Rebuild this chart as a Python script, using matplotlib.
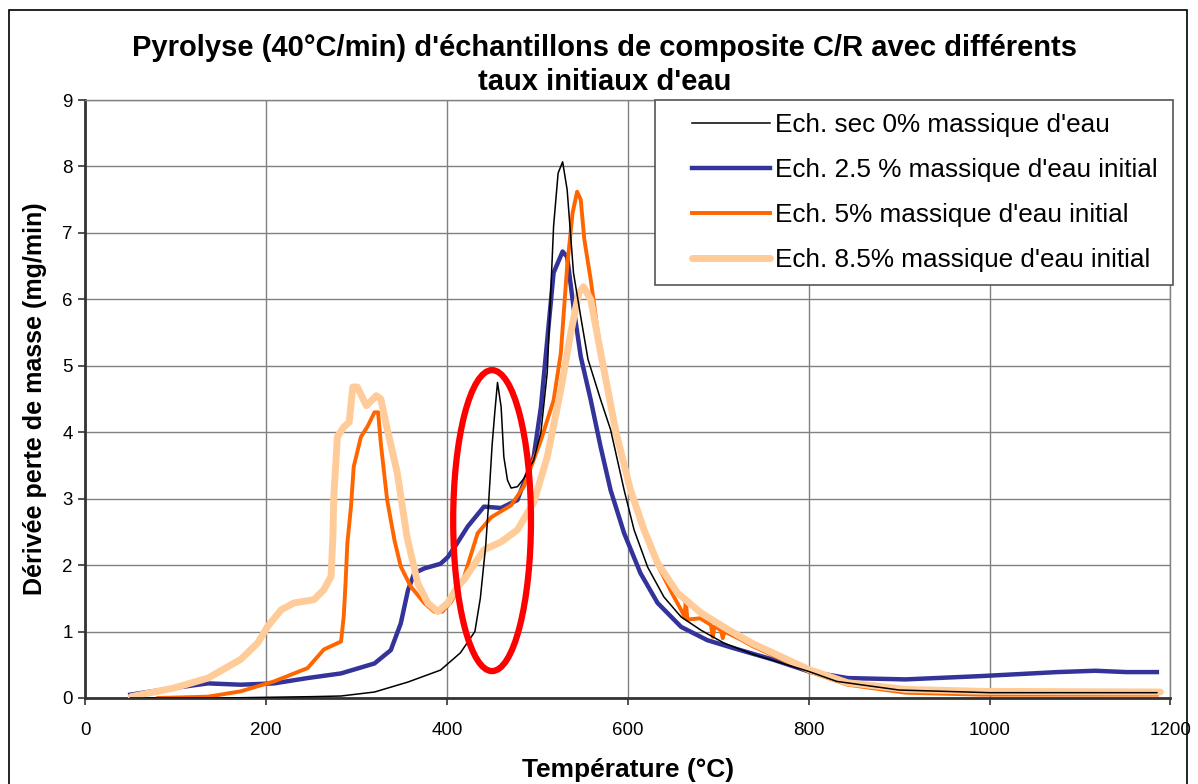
import matplotlib.pyplot as plt
from matplotlib.patches import Ellipse, Rectangle
from matplotlib.legend_handler import HandlerLine2D

plt.rcParams['font.family'] = ['Liberation Sans', 'DejaVu Sans']

# Temperature (degC) / mass loss derivative (mg/min)
t_sec = [50, 150, 250, 283, 320, 357, 393, 415, 431, 437, 443, 446, 450, 453, 456,
         460, 463, 467, 471, 478, 485, 496, 504, 511, 518, 523, 528, 533, 540, 548,
         556, 570, 581, 596, 607, 622, 640, 659, 681, 706, 738, 800, 831, 900, 1000, 1185]
d_sec = [0.0, 0.0, 0.02, 0.03, 0.09, 0.24, 0.42, 0.68, 1.0, 1.5, 2.3, 2.9, 3.8, 4.3, 4.75,
         4.38, 3.63, 3.28, 3.16, 3.18, 3.3, 3.58, 4.0, 4.9, 7.1, 7.9, 8.07, 7.65, 6.4, 5.74,
         5.1, 4.49, 4.04, 3.13, 2.53, 1.97, 1.52, 1.22, 1.02, 0.83, 0.66, 0.40, 0.25, 0.12, 0.08, 0.08]

t_25 = [50, 98, 136, 172, 209, 246, 283, 320, 338, 349, 357, 364, 375, 393, 401, 410,
        423, 441, 460, 478, 496, 504, 511, 518, 528, 533, 540, 548, 559, 570, 581, 596,
        614, 633, 659, 688, 717, 760, 800, 843, 907, 991, 1075, 1117, 1151, 1185]
d_25 = [0.05, 0.15, 0.22, 0.2, 0.22, 0.3, 0.37, 0.52, 0.72, 1.12, 1.62, 1.88, 1.95, 2.02, 2.12, 2.3,
        2.58, 2.88, 2.86, 2.98, 3.63, 4.38, 5.39, 6.4, 6.72, 6.64, 5.89, 5.14, 4.49, 3.78, 3.13, 2.48,
        1.88, 1.43, 1.07, 0.87, 0.75, 0.58, 0.40, 0.30, 0.28, 0.33, 0.39, 0.41, 0.39, 0.39]

t_5 = [81, 136, 172, 209, 246, 264, 283, 286, 288, 290, 294, 297, 305, 312, 320, 324,
       327, 334, 342, 349, 360, 375, 386, 395, 405, 419, 434, 449, 471, 485, 504, 518,
       526, 533, 539, 544, 548, 552, 559, 570, 587, 603, 618, 633, 650, 660, 663, 664,
       666, 680, 692, 694, 696, 703, 705, 707, 725, 738, 800, 843, 907, 991, 1185]
d_5 = [0.0, 0.02, 0.1, 0.25, 0.45, 0.73, 0.85, 1.23, 1.73, 2.33, 2.88, 3.48, 3.93, 4.08, 4.3, 4.3,
       3.83, 2.98, 2.38, 1.98, 1.68, 1.43, 1.3, 1.3, 1.45, 1.82, 2.48, 2.72, 2.9, 3.18, 3.88, 4.48,
       5.19, 6.5, 7.3, 7.62, 7.5, 6.9, 6.3, 5.2, 3.95, 3.1, 2.5, 2.0, 1.55, 1.3, 1.2, 1.48,
       1.18, 1.2, 1.1, 0.92, 1.08, 1.02, 0.9, 1.0, 0.88, 0.78, 0.40, 0.2, 0.08, 0.05, 0.05]

t_85 = [51, 98, 136, 172, 191, 202, 217, 231, 253, 264, 272, 274, 275, 279, 286, 292,
        296, 301, 311, 322, 327, 334, 345, 356, 368, 379, 390, 401, 412, 419, 441, 460,
        478, 496, 511, 526, 537, 546, 551, 559, 570, 587, 603, 618, 633, 655, 681, 706,
        725, 738, 800, 843, 907, 991, 1189]
d_85 = [0.02, 0.15, 0.3, 0.58, 0.83, 1.08, 1.33, 1.43, 1.48, 1.63, 1.83, 2.43, 3.03, 3.93, 4.08, 4.15,
        4.68, 4.68, 4.4, 4.55, 4.5, 4.05, 3.4, 2.42, 1.72, 1.43, 1.3, 1.43, 1.68, 1.78, 2.23, 2.35,
        2.53, 2.94, 3.63, 4.64, 5.5, 6.1, 6.19, 6.0, 5.2, 4.0, 3.13, 2.53, 2.03, 1.58, 1.28, 1.07,
        0.92, 0.82, 0.43, 0.23, 0.13, 0.1, 0.09]

labels = ["Ech. sec 0% massique d'eau",
          "Ech. 2.5 % massique d'eau initial",
          "Ech. 5% massique d'eau initial",
          "Ech. 8.5% massique d'eau initial"]


class InsetLine(HandlerLine2D):
    # legend line that leaves some blank space on its left
    def create_artists(self, legend, orig_handle, xdescent, ydescent, width, height, fontsize, trans):
        pad = 0.24 * width
        return super().create_artists(legend, orig_handle, xdescent - pad, ydescent,
                                      width - pad, height, fontsize, trans)


fig = plt.figure(figsize=(11.98, 7.84), dpi=100)
ax = fig.add_axes([0.071, 0.1097, 0.906, 0.7627])

l0, = ax.plot(t_sec, d_sec, color='black', lw=1.1, zorder=6)
l1, = ax.plot(t_25, d_25, color='#333399', lw=3.2, zorder=3)
l2, = ax.plot(t_5, d_5, color='#FF6600', lw=2.8, zorder=4)
l3, = ax.plot(t_85, d_85, color='#FFCC99', lw=5, zorder=5, solid_capstyle='round')

# red ellipse around the first peak of the dry sample
ax.add_patch(Ellipse((450, 2.67), 86, 4.53, fill=False, edgecolor='#FF0000', lw=4.5, zorder=7))

ax.set_xlim(0, 1200)
ax.set_ylim(0, 9)
ax.set_xticks(range(0, 1201, 200))
ax.set_yticks(range(0, 10))
ax.grid(True, color='#808080', lw=1)
ax.set_axisbelow(True)
ax.tick_params(labelsize=13.5, direction='out', length=5, width=1.2, color='#333333')
ax.tick_params(axis='x', pad=12)
ax.tick_params(axis='y', pad=4)
for s in ['top', 'right']:
    ax.spines[s].set_color('#808080')
    ax.spines[s].set_linewidth(1)
for s in ['left', 'bottom']:
    ax.spines[s].set_color('#333333')
    ax.spines[s].set_linewidth(2)

ax.set_xlabel('Température (°C)', fontsize=19, fontweight='bold', labelpad=14)
ax.set_ylabel('Dérivée perte de masse (mg/min)', fontsize=18, fontweight='bold', labelpad=11)

fig.text(0.505, 0.957, "Pyrolyse (40°C/min) d'échantillons de composite C/R avec différents\ntaux initiaux d'eau",
         ha='center', va='top', fontsize=21, fontweight='bold', linespacing=1.3)

leg = ax.legend([l0, l1, l2, l3], labels, loc='upper right', bbox_to_anchor=(0.525, 0, 0.477, 1),
                mode='expand', borderaxespad=0, fontsize=18.8, fancybox=False, framealpha=1,
                edgecolor='#555555', handlelength=3.9, handletextpad=0.2, labelspacing=0.8,
                borderpad=0.5, handler_map={plt.Line2D: InsetLine()})
leg.get_frame().set_linewidth(1.2)
leg.set_zorder(10)

fig.patches.append(Rectangle((9 / 1198, -0.01), 1178 / 1198, 1 - 10 / 784 + 0.01,
                             transform=fig.transFigure, fill=False, edgecolor='black', lw=1.2))

fig.savefig('out.png', dpi=100)
